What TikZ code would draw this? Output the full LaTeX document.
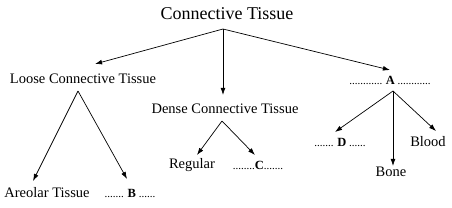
\documentclass[tikz,border=0pt]{standalone}
\usepackage{fontspec}
\setmainfont{Liberation Serif}
\usetikzlibrary{arrows.meta}

\begin{document}
\begin{tikzpicture}[x=1pt, y=-1pt, every node/.style={inner sep=0pt, font=\fontsize{14.5}{16}\selectfont},
	blank/.style={font=\fontsize{11}{12}\selectfont}, >={Latex[length=2.5mm, width=1.7mm]}]
	\useasboundingbox (0,0) rectangle (452,207);
	% top level
	\node[font=\fontsize{18}{20}\selectfont] (tissue) at (227,14) {Connective Tissue};
	\node (loose) at (83,79) {Loose Connective Tissue};
	\node (dense) at (225,109) {Dense Connective Tissue};
	\node[blank] (a) at (390,80) {............ {\fontsize{12.5}{13}\selectfont\bfseries A} ............};
	% leaves
	\node (areolar) at (47,193) {Areolar Tissue};
	\node[blank] (b) at (130,193) {....... {\fontsize{12.5}{13}\selectfont\bfseries B} ......};
	\node (regular) at (192,165) {Regular};
	\node[blank] (c) at (258,165) {........{\fontsize{12.5}{13}\selectfont\bfseries C}.......};
	\node[blank] (d) at (340,142) {....... {\fontsize{12.5}{13}\selectfont\bfseries D} ......};
	\node (bone) at (391,172) {Bone};
	\node (blood) at (428,142) {Blood};
	% split points below the parents
	\coordinate (tissue-s) at ([shift={(-4,15)}]tissue.center);
	\coordinate (loose-s) at ([shift={(-5,12)}]loose.center);
	\coordinate (dense-s) at ([shift={(-3,12)}]dense.center);
	\coordinate (a-s) at ([shift={(3,11)}]a.center);
	\draw[->, line width=0.7pt] (tissue-s) -- ([shift={(12,-15)}]loose.center);
	\draw[->, line width=0.7pt] (tissue-s) -- ([shift={(-2,-14)}]dense.center);
	\draw[->, line width=0.7pt] (tissue-s) -- ([shift={(0,-10)}]a.center);
	\draw[->, line width=0.7pt] (loose-s) -- ([shift={(-14,-12)}]areolar.center);
	\draw[->, line width=0.7pt] (loose-s) -- ([shift={(-3,-14)}]b.center);
	\draw[->, line width=0.7pt] (dense-s) -- ([shift={(5,-10)}]regular.center);
	\draw[->, line width=0.7pt] (dense-s) -- ([shift={(-3,-10)}]c.center);
	\draw[->, line width=0.7pt] (a-s) -- ([shift={(-5,-10)}]d.center);
	\draw[->, line width=0.7pt] (a-s) -- ([shift={(2,-6)}]bone.center);
	\draw[->, line width=0.7pt] (a-s) -- ([shift={(8,-11)}]blood.center);
\end{tikzpicture}
\end{document}
